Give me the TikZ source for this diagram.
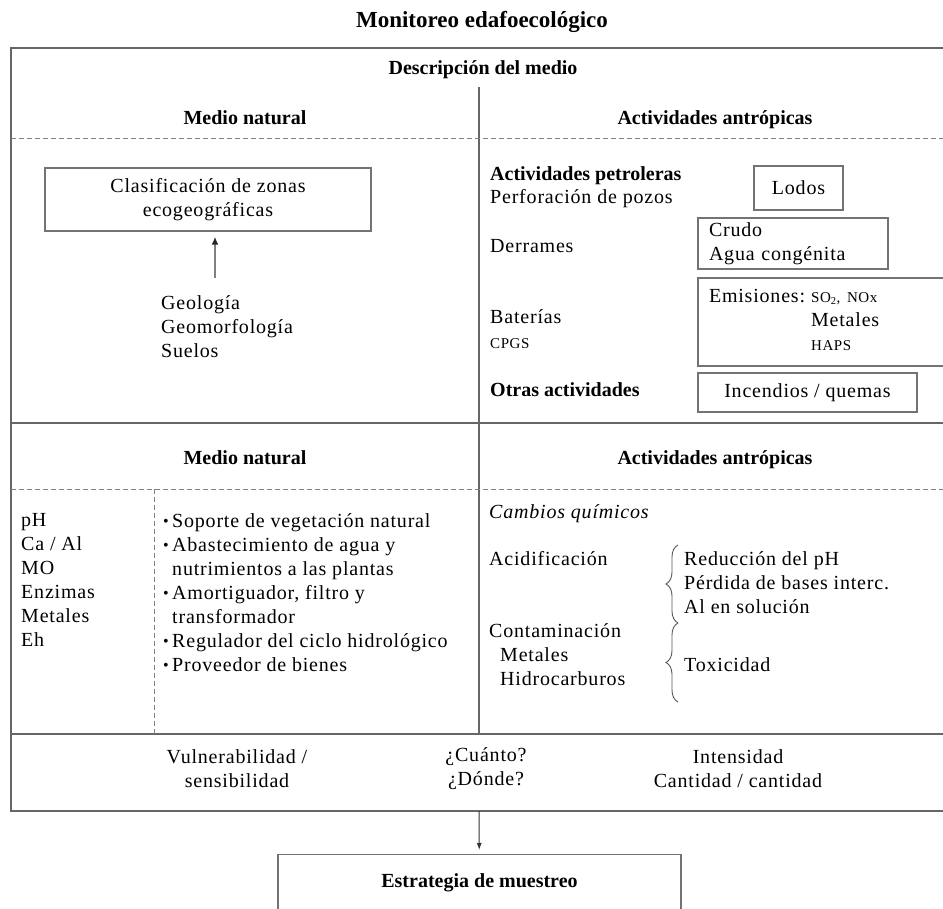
\documentclass[tikz,border=0pt]{standalone}
\usepackage{fontspec}
\setmainfont{Liberation Serif}[LetterSpace=4]
\newfontfamily\headfont{Liberation Serif}
\usetikzlibrary{arrows.meta,positioning,decorations.pathreplacing}
\newcommand{\blt}{\makebox[9pt][l]{\raisebox{0.5pt}{\fontsize{16}{16}\selectfont\textbullet}}}
\newcommand{\smtxt}[1]{{\fontsize{15}{16}\selectfont #1}}

\begin{document}
\begin{tikzpicture}[x=1pt, y=-1pt,
  txt/.style={inner sep=0pt, font=\fontsize{20}{24}\selectfont, text height=14pt, text depth=4pt},
  lines/.style={inner sep=0pt, font=\fontsize{20}{24}\selectfont, align=left},
  sml/.style={inner sep=0pt, font=\fontsize{15}{16}\selectfont},
  head/.style={inner sep=0pt, font=\headfont\bfseries\fontsize{20}{24}\selectfont,
    text height=14pt, text depth=4pt},
  ttl/.style={head, font=\headfont\bfseries\fontsize{23}{26}\selectfont},
  cell/.style={draw=black!55, line width=1.4pt, inner sep=0pt,
    font=\fontsize{20}{24}\selectfont, align=center},
  frame/.style={draw=black!60, line width=1.4pt},
  sep/.style={draw=black!50, line width=1pt, dash pattern=on 5pt off 3pt},
  arr/.style={-{Latex[length=7pt,width=5pt]}, line width=1pt, black!80},
  arrg/.style={-{Latex[length=8pt,width=7pt,color=black!85]}, line width=2.4pt, black!50},
  brc/.style={decorate, decoration={brace, amplitude=12pt}, black!65, line width=0.9pt}
]
  \useasboundingbox (0,0) rectangle (943,909);
  \clip (0,0) rectangle (943,909);

  % Frame
  \draw[frame] (11,48) rectangle (960,811);
  \draw[frame] (11,423) -- (960,423);
  \draw[frame] (11,734) -- (960,734);
  \draw[frame] (479,87) -- (479,734);
  \draw[sep] (11,139) -- (960,139);
  \draw[sep] (11,489) -- (960,489);
  \draw[sep] (154,489) -- (154,734);

  % Headings
  \node[ttl] (title) at (482,23) {Monitoreo edafoecológico};
  \node[head] (desc) at (483,70) {Descripción del medio};
  \node[head] (natA) at (245,120) {Medio natural};
  \node[head] (antA) at (715,120) {Actividades antrópicas};
  \node[head] (natB) at (245,459) {Medio natural};
  \node[head] (antB) at (715,459) {Actividades antrópicas};

  % Ecogeographic zones
  \node[cell, minimum width=326pt, minimum height=63pt] (zonas) at (208,199.5)
    {Clasificación de zonas\\ecogeográficas};
  \node[lines, anchor=north west] (geo) at (161,295) {Geología\\Geomorfología\\Suelos};
  \draw[arrg, shorten <=17pt, shorten >=5pt]
    ([xshift=7pt]zonas.south |- geo.north) -- ([xshift=7pt]zonas.south);

  % Oil activities
  \node[head, anchor=west] (petro) at (490,176) {Actividades petroleras};
  \node[txt, anchor=west] (perf) at (490,199) {Perforación de pozos};
  \node[cell, minimum width=89pt, minimum height=44pt] (lodos) at (798.5,188) {Lodos};
  \node[txt, anchor=west] (derr) at (490,248) {Derrames};
  \node[cell, text width=168pt, inner xsep=11pt, minimum height=51pt, align=left]
    (crudo) at (793,243.5) {Crudo\\Agua congénita};
  \node[txt, anchor=west] (bat) at (490,319) {Baterías};
  \node[sml, anchor=west] (cpgs) at (490,344) {CPGS};
  \node[cell, text width=240pt, inner xsep=11pt, minimum height=88pt, align=left]
    (emis) at (829,322) {\begin{tabular}{@{}l@{\hspace{6pt}}l@{}}
      Emisiones: & \smtxt{SO\textsubscript{2}, NOx}\\
      & Metales\\
      & \smtxt{HAPS}\end{tabular}};
  \node[head, anchor=west] (otras) at (490,391) {Otras actividades};
  \node[cell, minimum width=219pt, minimum height=39pt] (incend) at (807.5,392.5)
    {Incendios / quemas};

  % Soil functions
  \node[lines, anchor=north west] (param) at (21,513)
    {pH\\Ca / Al\\MO\\Enzimas\\Metales\\Eh};
  \node[lines, anchor=north west] (funcs) at (163,513)
    {\blt Soporte de vegetación natural\\
     \blt Abastecimiento de agua y\\
     \hspace*{9pt}nutrimientos a las plantas\\
     \blt Amortiguador, filtro y\\
     \hspace*{9pt}transformador\\
     \blt Regulador del ciclo hidrológico\\
     \blt Proveedor de bienes};

  % Chemical changes
  \node[txt, anchor=west] (camb) at (489,513) {\itshape Cambios químicos};
  \node[txt, anchor=west] (acid) at (489,560) {Acidificación};
  \node[lines, anchor=north west] (red) at (684,551)
    {Reducción del pH\\Pérdida de bases interc.\\Al en solución};
  \node[lines, anchor=north west] (contam) at (489,623)
    {Contaminación\\\hspace*{11pt}Metales\\\hspace*{11pt}Hidrocarburos};
  \node[txt, anchor=west] (tox) at (684,666) {Toxicidad};
  \coordinate (b1top) at (678,545);
  \coordinate (b1bot) at (678,623);
  \coordinate (b2bot) at (678,702);
  \draw[brc] (b1bot) -- (b1top);
  \draw[brc] (b2bot) -- (b1bot);

  % Summary row
  \node[lines, align=center] (vuln) at (237,769) {Vulnerabilidad /\\sensibilidad};
  \node[lines, align=center] (cuanto) at (486,769) {¿Cuánto?\\¿Dónde?};
  \node[lines, align=center] (intens) at (738,769) {Intensidad\\Cantidad / cantidad};

  % Sampling strategy
  \coordinate (fbot) at (479,811);
  \node[cell, anchor=north, minimum width=403pt, minimum height=66pt,
    text height=14pt, text depth=15pt, font=\headfont\bfseries\fontsize{20}{24}\selectfont]
    (estr) at (479.5,854) {Estrategia de muestreo};
  \draw[arr, shorten >=4pt] (fbot) -- (estr);
\end{tikzpicture}
\end{document}
